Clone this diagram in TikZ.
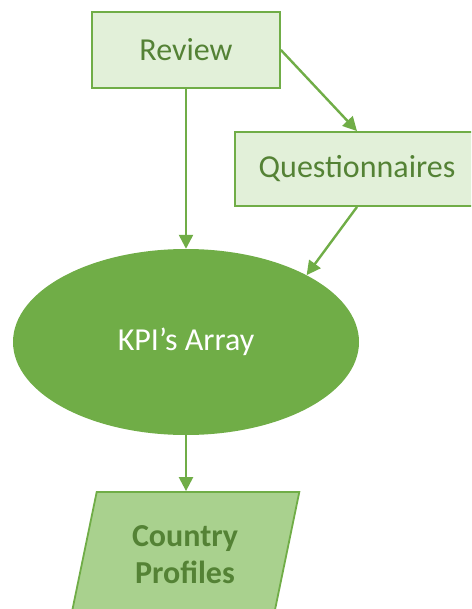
\documentclass[tikz,border=0pt]{standalone}
\usepackage{fontspec}
\setmainfont{Carlito}
\usetikzlibrary{arrows.meta,shapes.geometric}
\definecolor{accgreen}{HTML}{70AD47}
\definecolor{darkgreen}{HTML}{548235}
\definecolor{palegreen}{HTML}{E2F0D9}
\definecolor{midgreen}{HTML}{A9D18E}
\tikzset{
  flowbox/.style={draw=accgreen,fill=palegreen,line width=1.8pt,text=darkgreen,
    font=\fontsize{32}{37}\selectfont,inner sep=0pt},
  flowarrow/.style={draw=accgreen,line width=2.4pt,-{Triangle[length=14pt,width=14pt]}}
}
\begin{document}
\begin{tikzpicture}[x=1pt,y=-1pt]
\useasboundingbox (0,0) rectangle (471,609);
\clip (0,0) rectangle (471,609);
%
\node[flowbox,minimum width=188pt,minimum height=76pt] (rev) at (186,50) {Review};
\node[flowbox,minimum width=244pt,minimum height=74pt] (quest) at (357,169) {Questionnaires};
\node[ellipse,fill=accgreen,text=white,minimum width=346pt,minimum height=186pt,
  inner sep=0pt,font=\fontsize{32}{37}\selectfont] (kpi) at (186,342) {KPI’s Array};
\node[trapezium,trapezium left angle=75,trapezium right angle=105,trapezium stretches=true,
  draw=accgreen,fill=midgreen,line width=1.8pt,text=darkgreen,inner sep=0pt,
  minimum width=229pt,minimum height=126pt,align=center,
  font=\fontsize{32}{37}\selectfont\bfseries] (prof) at (185,555) {Country\\Profiles};
%
\draw[flowarrow] (rev.east) -- (quest.north);
\draw[flowarrow] (rev.south) -- (kpi.north);
\draw[flowarrow] (quest.south) -- (kpi.29);
\draw[flowarrow] (kpi.south) -- (kpi.south |- prof.north);
\end{tikzpicture}
\end{document}
